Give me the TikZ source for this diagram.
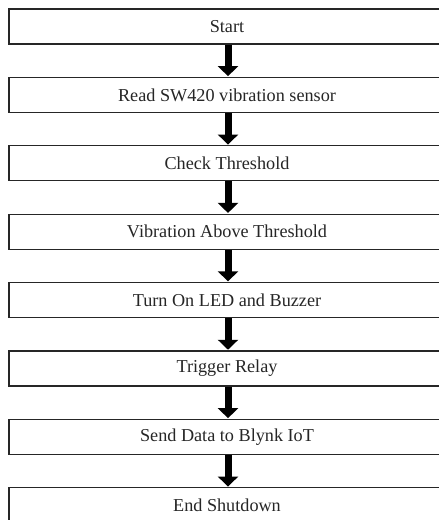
\documentclass[tikz,border=0pt]{standalone}
\usepackage{fontspec}
\setmainfont{Liberation Serif}
\usetikzlibrary{arrows.meta}
\begin{document}
\begin{tikzpicture}[x=1bp,y=-1bp,
  stepbox/.style={draw=black!85, line width=1.3bp, minimum width=436bp, minimum height=35bp,
    inner sep=0pt, font=\fontsize{18.2bp}{22bp}\selectfont, text=black!85},
  flowarrow/.style={line width=7bp, black, -{Triangle[width=20bp,length=10bp]}, shorten >=0.6bp}]
\useasboundingbox (0,0) rectangle (439,520);
\clip (0,0) rectangle (439,520);
\node[stepbox] (b1) at (227,26.5) {Start};
\node[stepbox] (b2) at (227,94.9) {Read SW420 vibration sensor};
\node[stepbox] (b3) at (227,163.3) {Check Threshold};
\node[stepbox] (b4) at (227,231.7) {Vibration Above Threshold};
\node[stepbox] (b5) at (227,300.1) {Turn On LED and Buzzer};
\node[stepbox] (b6) at (227,368.5) {Trigger Relay};
\node[stepbox] (b7) at (227,436.9) {Send Data to Blynk IoT};
\node[stepbox] (b8) at (227,505.3) {End Shutdown};
\foreach \a/\b in {b1/b2,b2/b3,b3/b4,b4/b5,b5/b6,b6/b7,b7/b8}
  \draw[flowarrow] ([xshift=1bp]\a.south) -- ([xshift=1bp]\b.north);
\end{tikzpicture}
\end{document}
